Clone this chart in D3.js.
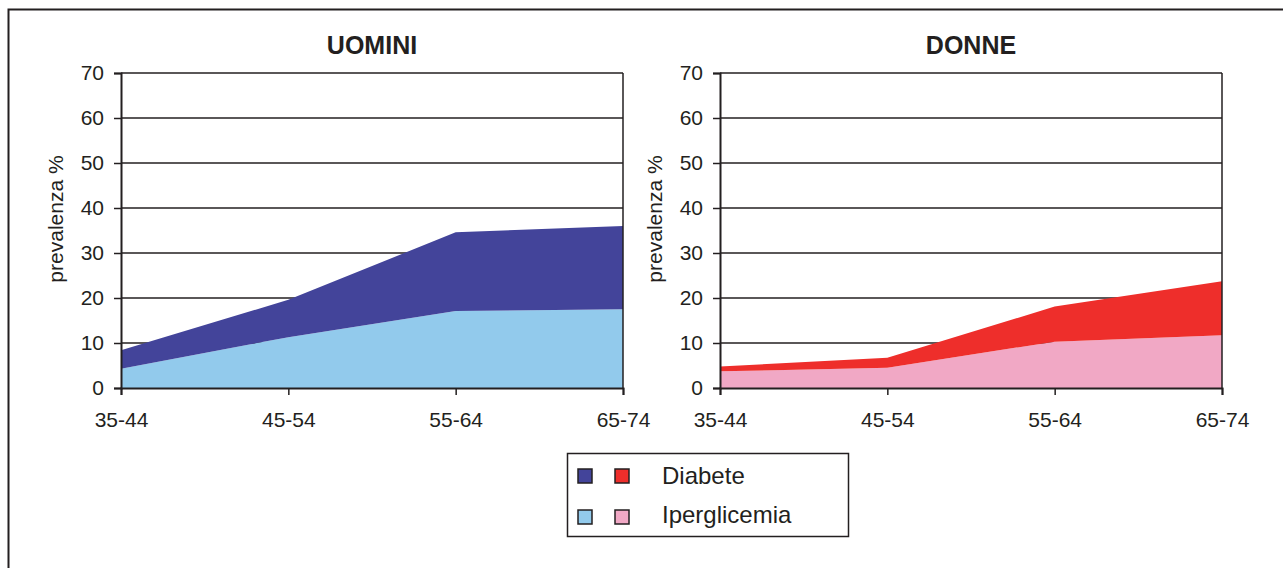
<!DOCTYPE html>
<html>
<head>
<meta charset="utf-8">
<script src="https://cdn.jsdelivr.net/npm/d3@7"></script>
<style>
  body { margin: 0; background: #fff; }
  svg { display: block; font-family: "Liberation Sans", Arial, sans-serif; }
</style>
</head>
<body>
<svg></svg>
<script>
const width = 1283;
const height = 568;

// age groups and values (prevalenza %)
const ageGroups = ["35-44", "45-54", "55-64", "65-74"];
const menIperglicemia = [4.3, 11.3, 17.1, 17.5];
const menDiabete = [4.1, 8.3, 17.5, 18.5];
const womenIperglicemia = [3.7, 4.5, 10.3, 11.7];
const womenDiabete = [1.1, 2.2, 7.8, 12.0];
const yTicks = [0, 10, 20, 30, 40, 50, 60, 70];
const seriesNames = ["Iperglicemia", "Diabete"];

const ink = "#231f20";

const svg = d3.select("svg")
  .attr("width", width)
  .attr("height", height);

// outer frame
svg.append("rect")
  .attr("x", 8.5).attr("y", 9.5)
  .attr("width", width).attr("height", height)
  .attr("fill", "none")
  .attr("stroke", ink)
  .attr("stroke-width", 2);

const panels = [
  { title: "UOMINI", left: 121, iper: menIperglicemia, diab: menDiabete, colors: ["#92caec", "#43449a"] },
  { title: "DONNE", left: 720, iper: womenIperglicemia, diab: womenDiabete, colors: ["#f1a8c5", "#ee2e2b"] }
];

const plotW = 502;
const plotTop = 73;
const plotBottom = 388;

panels.forEach(p => {
  const g = svg.append("g");

  const x = d3.scalePoint()
    .domain(ageGroups)
    .range([p.left, p.left + plotW]);

  const y = d3.scaleLinear()
    .domain([0, 70])
    .range([plotBottom, plotTop]);

  // gridlines
  g.selectAll(".grid")
    .data(yTicks)
    .enter()
    .append("line")
    .attr("x1", p.left).attr("x2", p.left + plotW)
    .attr("y1", d => y(d)).attr("y2", d => y(d))
    .attr("stroke", ink)
    .attr("stroke-width", 1.5);

  // stacked areas
  const rows = ageGroups.map((a, i) => ({ age: a, Iperglicemia: p.iper[i], Diabete: p.diab[i] }));
  const stacked = d3.stack().keys(seriesNames)(rows);

  const area = d3.area()
    .x(d => x(d.data.age))
    .y0(d => y(d[0]))
    .y1(d => y(d[1]));

  g.selectAll(".layer")
    .data(stacked)
    .enter()
    .append("path")
    .attr("d", area)
    .attr("fill", (d, i) => p.colors[i]);

  // right frame line
  g.append("line")
    .attr("x1", p.left + plotW).attr("x2", p.left + plotW)
    .attr("y1", plotTop).attr("y2", plotBottom)
    .attr("stroke", ink).attr("stroke-width", 1.5);

  // y axis
  const yAxis = g.append("g")
    .attr("transform", `translate(${p.left},0)`)
    .call(d3.axisLeft(y).tickValues(yTicks).tickSize(7).tickPadding(10));
  yAxis.attr("font-size", 21).attr("font-family", "Liberation Sans, Arial, sans-serif");
  yAxis.select(".domain").attr("stroke", ink).attr("stroke-width", 2);
  yAxis.selectAll(".tick line").attr("stroke", ink).attr("stroke-width", 1.5);
  yAxis.selectAll("text").attr("fill", ink);

  // x axis
  const xAxis = g.append("g")
    .attr("transform", `translate(0,${plotBottom})`)
    .call(d3.axisBottom(x).tickSize(7).tickPadding(17));
  xAxis.attr("font-size", 21).attr("font-family", "Liberation Sans, Arial, sans-serif");
  xAxis.select(".domain").attr("stroke", ink).attr("stroke-width", 2);
  xAxis.selectAll(".tick line").attr("stroke", ink).attr("stroke-width", 1.5);
  xAxis.selectAll("text").attr("fill", ink);

  // title
  g.append("text")
    .attr("x", p.left + plotW / 2)
    .attr("y", 54)
    .attr("text-anchor", "middle")
    .attr("font-size", 25)
    .attr("font-weight", "bold")
    .attr("fill", ink)
    .text(p.title);

  // y label
  g.append("text")
    .attr("transform", `translate(${p.left - 58},219) rotate(-90)`)
    .attr("text-anchor", "middle")
    .attr("font-size", 21)
    .attr("fill", ink)
    .text("prevalenza %");
});

// legend
const legend = svg.append("g");
legend.append("rect")
  .attr("x", 567.5).attr("y", 453.5)
  .attr("width", 281).attr("height", 83)
  .attr("fill", "#fff")
  .attr("stroke", ink)
  .attr("stroke-width", 1.5);

const legendRows = [
  { label: "Diabete", colors: [panels[0].colors[1], panels[1].colors[1]] },
  { label: "Iperglicemia", colors: [panels[0].colors[0], panels[1].colors[0]] }
];

legendRows.forEach((r, i) => {
  const cy = 476 + i * 41;
  r.colors.forEach((c, j) => {
    legend.append("rect")
      .attr("x", 578 + j * 37).attr("y", cy - 7)
      .attr("width", 14).attr("height", 14)
      .attr("fill", c)
      .attr("stroke", ink)
      .attr("stroke-width", 1.5);
  });
  legend.append("text")
    .attr("x", 662).attr("y", 484 + i * 39)
    .attr("font-size", 24)
    .attr("fill", ink)
    .text(r.label);
});
</script>
</body>
</html>
